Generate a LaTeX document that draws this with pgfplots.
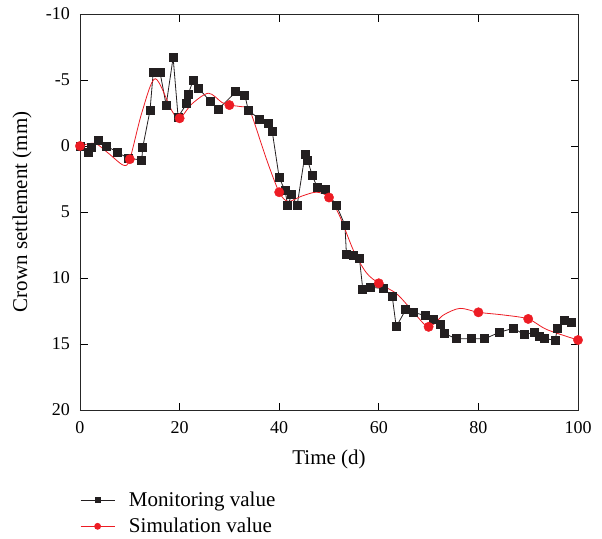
\documentclass[border=0pt]{standalone}
\usepackage{fontspec}
\setmainfont{Liberation Serif}
\usepackage{pgfplots}
\pgfplotsset{compat=1.18}
\definecolor{mon}{HTML}{231F20}
\definecolor{sim}{HTML}{ED1C24}
\begin{document}
\begin{tikzpicture}
\begin{axis}[
  scale only axis,
  width=498pt, height=396pt,
  xmin=0, xmax=100, ymin=-10, ymax=20,
  y dir=reverse,
  xtick={0,20,40,60,80,100},
  ytick={-10,-5,0,5,10,15,20},
  yticklabels={-10,-5,0,5,10,15,20},
  tick align=inside,
  major tick length=7.5pt,
  tick style={black, line width=0.8pt},
  axis line style={black!85, line width=0.9pt},
  /pgf/number format/assume math mode=true,
  ticklabel style={font=\fontsize{18}{18}\selectfont},
  yticklabel style={inner sep=0pt, xshift=-10pt},
  xticklabel style={inner sep=0pt, yshift=-11pt},
  xlabel={Time (d)},
  ylabel={Crown settlement (mm)},
  label style={font=\fontsize{21}{21}\selectfont},
  xlabel style={at={(axis description cs:0.5,-0.126)}, anchor=center},
  ylabel style={at={(axis description cs:-0.1165,0.5)}, anchor=center},
  legend style={at={(axis description cs:0,0)}, anchor=north west, xshift=0pt, yshift=-80pt,
    draw=none, fill=none, font=\fontsize{21}{21}\selectfont, inner sep=0pt,
    row sep=6pt, nodes={inner sep=2pt, anchor=west}},
  legend cell align=left,
  legend image code/.code={\draw[mark repeat=2,mark phase=2,#1] plot coordinates {(0pt,0pt) (17pt,0pt) (34pt,0pt)}; \path (46pt,0pt);},
]
\addlegendimage{mon, line width=0.8pt, mark=square*, mark size=2.5pt}
\addlegendentry{Monitoring value}
\addlegendimage{sim, line width=0.8pt, mark=*, mark size=3pt}
\addlegendentry{Simulation value}

\addplot[forget plot, mon, line width=0.8pt, mark=square*, mark size=4pt] coordinates {
(0,0) (1.7,0.5) (2.3,0.1) (3.7,-0.4) (5.35,0) (7.5,0.48) (9.7,0.93) (12.4,1.06)
(12.6,0.1) (14.06,-2.7) (14.7,-5.55) (16.06,-5.6) (17.3,-3.1) (18.7,-6.7) (19.7,-2.2)
(21.4,-3.2) (21.7,-3.9) (22.75,-5.0) (23.76,-4.4) (26.1,-3.4) (27.8,-2.8)
(31.3,-4.1) (33.1,-3.86) (33.8,-2.7) (36.0,-2.05) (37.8,-1.7) (38.6,-1.1) (40.0,2.4)
(41.2,3.4) (41.7,4.5) (42.5,3.7) (43.6,4.5) (45.2,0.6) (45.7,1.06) (46.6,2.2)
(47.6,3.1) (49.2,3.3) (51.5,4.5) (53.2,6.0) (53.5,8.2) (54.9,8.26) (56.1,8.5)
(56.8,10.9) (58.4,10.7) (61.0,10.8) (62.7,11.4) (63.5,13.7) (65.4,12.4) (66.9,12.6)
(69.4,12.85) (70.9,13.1) (72.3,13.5) (73.1,14.2) (75.6,14.6) (78.6,14.6) (81.3,14.6)
(84.3,14.1) (87.1,13.8) (89.2,14.3) (91.2,14.1) (92.2,14.4) (93.2,14.6) (95.4,14.7)
(95.9,13.8) (97.3,13.2) (98.7,13.4)
};

\addplot[forget plot, sim, line width=0.8pt, smooth, tension=0.5, mark=none] coordinates {
(0,0) (3,-0.2) (5.7,0.55) (8.7,1.45) (10,1.0) (12.4,-2.5) (15.1,-5.1) (18.4,-2.7)
(20,-2.1) (22.5,-3.2) (25.8,-4.0) (28.5,-3.3) (30,-3.1) (32,-3.0) (33.8,-2.85) (34.8,-2.0)
(37.5,1.06) (40,3.5) (41.8,4.2) (44.5,3.8) (47.5,3.5) (50,3.9) (52.2,5.35) (54.9,7.9)
(57.5,9.6) (60,10.4) (63.6,11.2) (66.9,12.55) (70,13.7) (73,12.8) (76.3,12.3) (80,12.6)
(85,12.8) (90,13.1) (93.7,13.9) (100,14.7)
};

\addplot[forget plot, sim, only marks, mark=*, mark size=4.7pt] coordinates {
(0,0) (10,1.0) (20,-2.1) (30,-3.1) (40,3.5) (50,3.9) (60,10.4) (70,13.7) (80,12.6) (90,13.1) (100,14.7)
};
\end{axis}
\path (current axis.south west) ++(-80pt,-128pt);
\path (current axis.north east) ++(24pt,14pt);
\end{tikzpicture}
\end{document}
